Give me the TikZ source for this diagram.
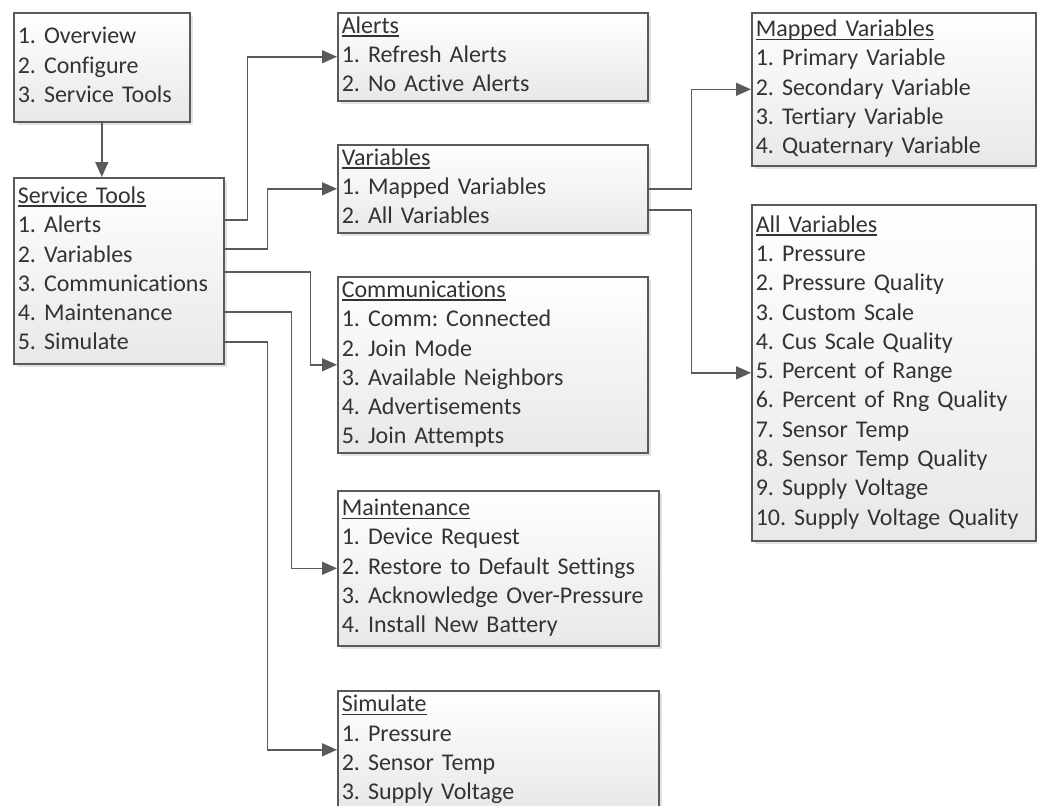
\documentclass[tikz,border=0pt]{standalone}
\usepackage{fontspec}
\setmainfont{Carlito}[Ligatures={NoCommon,NoContextual},Contextuals=NoAlternate]
\frenchspacing
\usetikzlibrary{arrows.meta,shadows,calc}
\definecolor{boxgray}{HTML}{5A5A5A}
\definecolor{textgray}{HTML}{333333}
\newcommand{\mhead}[1]{\setbox0\hbox{#1}\rlap{\rule[-3.5pt]{\wd0}{1.5pt}}\box0}
\tikzset{
  box/.style={draw=boxgray, line width=1.6pt, top color=white, bottom color=black!9,
    anchor=north west, align=left, inner xsep=4pt, inner ysep=0pt,
    font=\fontsize{24}{29.3}\selectfont, text=textgray,
    drop shadow={shadow xshift=3pt, shadow yshift=-3pt, fill=black!25, opacity=0.45}},
  conn/.style={draw=boxgray, line width=1.6pt, -{Triangle[length=15pt,width=13pt]}},
}
\begin{document}
\begin{tikzpicture}[x=1pt,y=-1pt]
\useasboundingbox (0,0) rectangle (1037,806);
\node[box, text width=168pt, minimum height=109pt] (menu) at (13,12)
  {\strut 1. Overview\\ \strut 2. Configure\\ \strut 3. Service Tools};
\node[box, text width=202pt, minimum height=186pt] (st) at (13,177)
  {\strut\mhead{Service Tools}\\ \strut 1. Alerts\\ \strut 2. Variables\\ \strut 3. Communications\\ \strut 4. Maintenance\\ \strut 5. Simulate};
\node[box, text width=302pt, minimum height=87pt] (alerts) at (337,12)
  {\strut\mhead{Alerts}\\ \strut 1. Refresh Alerts\\ \strut 2. No Active Alerts};
\node[box, text width=302pt, minimum height=88pt] (vars) at (337,144)
  {\strut\mhead{Variables}\\ \strut 1. Mapped Variables\\ \strut 2. All Variables};
\node[box, text width=302pt, minimum height=176pt] (comm) at (337,276)
  {\strut\mhead{Communications}\\ \strut 1. Comm: Connected\\ \strut 2. Join Mode\\ \strut 3. Available Neighbors\\ \strut 4. Advertisements\\ \strut 5. Join Attempts};
\node[box, text width=313pt, minimum height=155pt] (maint) at (337,490)
  {\strut\mhead{Maintenance}\\ \strut 1. Device Request\\ \strut 2. Restore to Default Settings\\ \strut 3. Acknowledge Over-Pressure\\ \strut 4. Install New Battery};
\node[box, text width=313pt, minimum height=118pt] (sim) at (337,690)
  {\strut\mhead{Simulate}\\ \strut 1. Pressure\\ \strut 2. Sensor Temp\\ \strut 3. Supply Voltage};
\node[box, text width=276pt, minimum height=153pt] (mapped) at (751,12)
  {\strut\mhead{Mapped Variables}\\ \strut 1. Primary Variable\\ \strut 2. Secondary Variable\\ \strut 3. Tertiary Variable\\ \strut 4. Quaternary Variable};
\node[box, text width=276pt, minimum height=336pt] (allv) at (751,204)
  {\strut\mhead{All Variables}\\ \strut 1. Pressure\\ \strut 2. Pressure Quality\\ \strut 3. Custom Scale\\ \strut 4. Cus Scale Quality\\ \strut 5. Percent of Range\\ \strut 6. Percent of Rng Quality\\ \strut 7. Sensor Temp\\ \strut 8. Sensor Temp Quality\\ \strut 9. Supply Voltage\\ \strut 10. Supply Voltage Quality};
\draw[conn] (menu.south) -- (menu.south |- st.north);
\draw[conn] ($(st.north east)+(0,43)$) -- ++(23,0) |- (alerts.west);
\draw[conn] ($(st.north east)+(0,72)$) -- ++(43,0) |- (vars.west);
\draw[conn] ($(st.north east)+(0,95)$) -- ++(86,0) |- (comm.west);
\draw[conn] ($(st.north east)+(0,135)$) -- ++(67,0) |- (maint.west);
\draw[conn] ($(st.north east)+(0,165)$) -- ++(43,0) |- (sim.west);
\draw[conn] (vars.east) -- ++(43,0) |- (mapped.west);
\draw[conn] ($(vars.north east)+(0,66)$) -- ++(43,0) |- (allv.west);
\end{tikzpicture}
\end{document}
